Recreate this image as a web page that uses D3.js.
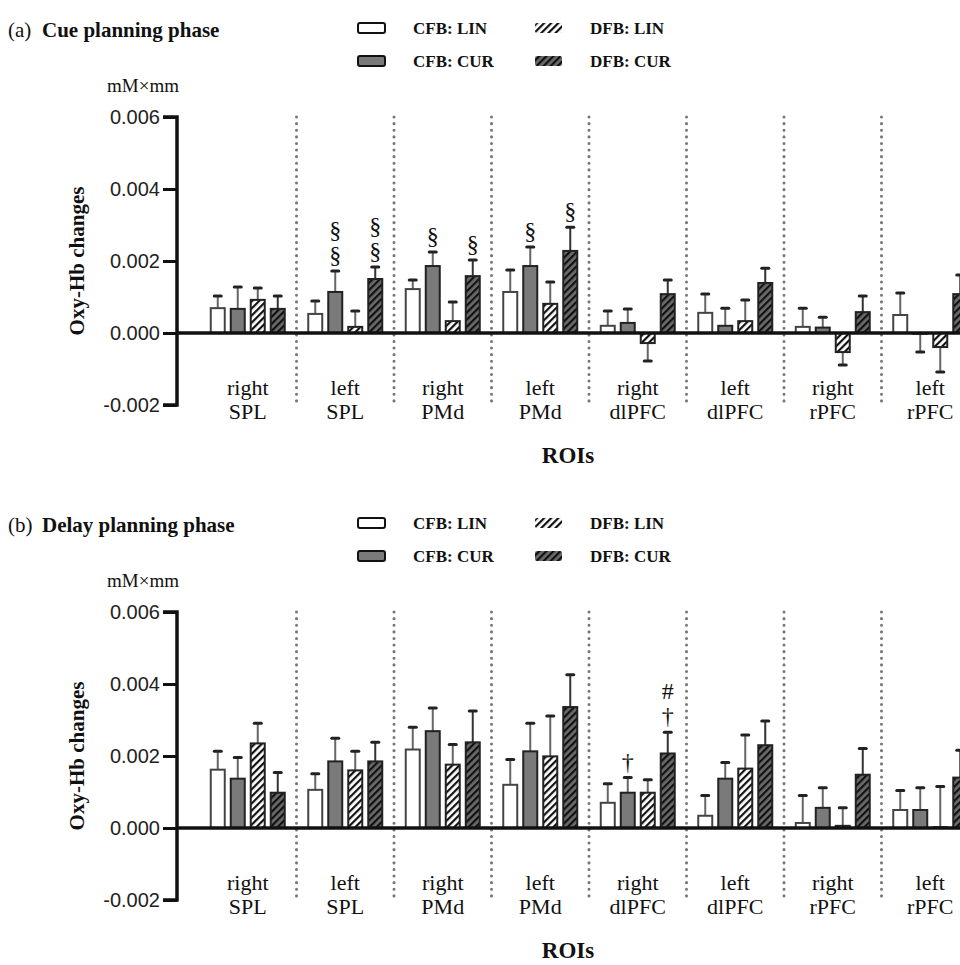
<!DOCTYPE html>
<html>
<head>
<meta charset="utf-8">
<script src="https://cdn.jsdelivr.net/npm/d3@7"></script>
<style>
  body { margin: 0; background: #fff; }
  svg { display: block; }
  .serif { font-family: "Liberation Serif", "Times New Roman", serif; fill: #111; }
  .tick text { font-family: "Liberation Sans", Arial, sans-serif; font-size: 20px; fill: #222; }
</style>
</head>
<body>
<div id="chart"></div>
<script>
// ROI groups (two-line labels)
const sides = ["right", "left", "right", "left", "right", "left", "right", "left"];
const regions = ["SPL", "SPL", "PMd", "PMd", "dlPFC", "dlPFC", "rPFC", "rPFC"];
const seriesNames = ["CFB: LIN", "CFB: CUR", "DFB: LIN", "DFB: CUR"];
const yTicks = [-0.002, 0, 0.002, 0.004, 0.006];

// (a) cue planning phase: means and SEM per series
const cueCfbLin = [0.00069, 0.00053, 0.00122, 0.00114, 0.00020, 0.00056, 0.00017, 0.00050];
const cueCfbCur = [0.00067, 0.00114, 0.00186, 0.00186, 0.00028, 0.00020, 0.00015, -0.00002];
const cueDfbLin = [0.00092, 0.00017, 0.00033, 0.00081, -0.00028, 0.00033, -0.00053, -0.00039];
const cueDfbCur = [0.00067, 0.00150, 0.00158, 0.00228, 0.00108, 0.00139, 0.00058, 0.00108];
const cueCfbLinErr = [0.00034, 0.00036, 0.00025, 0.00061, 0.00041, 0.00052, 0.00052, 0.00061];
const cueCfbCurErr = [0.00061, 0.00058, 0.00039, 0.00053, 0.00039, 0.00049, 0.00029, 0.00051];
const cueDfbLinErr = [0.00033, 0.00044, 0.00053, 0.00061, 0.00050, 0.00059, 0.00036, 0.00069];
const cueDfbCurErr = [0.00036, 0.00033, 0.00045, 0.00066, 0.00039, 0.00041, 0.00045, 0.00053];

// (b) delay planning phase
const delayCfbLin = [0.00162, 0.00106, 0.00218, 0.00120, 0.00070, 0.00034, 0.00014, 0.00050];
const delayCfbCur = [0.00137, 0.00185, 0.00269, 0.00213, 0.00098, 0.00137, 0.00056, 0.00050];
const delayDfbLin = [0.00235, 0.00160, 0.00176, 0.00199, 0.00098, 0.00165, 0.00006, 0.00002];
const delayDfbCur = [0.00098, 0.00185, 0.00238, 0.00336, 0.00207, 0.00230, 0.00148, 0.00140];
const delayCfbLinErr = [0.00051, 0.00045, 0.00062, 0.00070, 0.00053, 0.00056, 0.00076, 0.00054];
const delayCfbCurErr = [0.00059, 0.00064, 0.00064, 0.00078, 0.00042, 0.00045, 0.00056, 0.00062];
const delayDfbLinErr = [0.00056, 0.00053, 0.00056, 0.00112, 0.00036, 0.00093, 0.00050, 0.00113];
const delayDfbCurErr = [0.00056, 0.00053, 0.00087, 0.00090, 0.00059, 0.00067, 0.00073, 0.00076];

// significance marks: group index, series index, symbols bottom-up
const cueMarks = [
  [1, 1, ["§", "§"]], [1, 3, ["§", "§"]],
  [2, 1, ["§"]], [2, 3, ["§"]],
  [3, 1, ["§"]], [3, 3, ["§"]]
];
const delayMarks = [
  [4, 1, ["†"]], [4, 3, ["†", "#"]]
];

const W = 960, H = 965;
const svg = d3.select("#chart").append("svg").attr("width", W).attr("height", H);

// patterns for hatched series
const defs = svg.append("defs");
function hatch(id, bg) {
  const p = defs.append("pattern").attr("id", id)
    .attr("patternUnits", "userSpaceOnUse")
    .attr("width", 5).attr("height", 5)
    .attr("patternTransform", "rotate(45)");
  p.append("rect").attr("width", 5).attr("height", 5).attr("fill", bg);
  p.append("rect").attr("width", 2.2).attr("height", 5).attr("fill", "#111");
}
hatch("hatchLight", "#fff");
hatch("hatchDark", "#6a6a6a");

const fills = ["#fff", "#7a7a7a", "url(#hatchLight)", "url(#hatchDark)"];
const outline = ["#444", "#222", "#222", "#222"];

function drawPanel(opts) {
  const top = opts.top;
  const g = svg.append("g").attr("transform", `translate(0,${top})`);

  const y = d3.scaleLinear().domain([-0.002, 0.006]).range([405, 117]);
  const x0 = d3.scaleBand().domain(d3.range(sides.length)).range([199, 199 + 97.5 * 8]).padding(0);
  const x1 = d3.scaleBand().domain(d3.range(4)).range([11.75, 85.75]).paddingInner(0.3).paddingOuter(0);

  // title
  const title = g.append("text").attr("class", "serif").attr("x", 8).attr("y", 37).style("font-size", "21px");
  title.append("tspan").text(opts.letter);
  title.append("tspan").attr("x", 42).style("font-weight", "bold").text(opts.title);

  // legend
  const lg = g.append("g");
  seriesNames.forEach((name, i) => {
    const col = i < 2 ? 0 : 1;
    const row = i % 2;
    const lx = col === 0 ? 358 : 535;
    const ly = row === 0 ? 28 : 61;
    lg.append("rect").attr("x", lx).attr("y", ly - 5).attr("width", 27).attr("height", 10)
      .attr("rx", 2)
      .attr("fill", fills[i])
      .attr("stroke", i < 2 ? "#111" : "none").attr("stroke-width", 2);
    lg.append("text").attr("class", "serif").attr("x", lx + 55).attr("y", ly + 6)
      .style("font-size", "17px").style("font-weight", "bold").text(name);
  });

  // unit
  g.append("text").attr("class", "serif").attr("x", 107).attr("y", 92)
    .style("font-size", "19px").text("mM×mm");

  // y label
  g.append("text").attr("class", "serif")
    .attr("transform", `translate(84,${(y(0.006) + y(-0.002)) / 2}) rotate(-90)`)
    .attr("text-anchor", "middle")
    .style("font-size", "21px").style("font-weight", "bold")
    .text("Oxy-Hb changes");

  // dotted separators
  g.selectAll(".sep").data(d3.range(1, sides.length)).join("line")
    .attr("x1", d => x0(d)).attr("x2", d => x0(d))
    .attr("y1", y(0.006)).attr("y2", y(-0.002))
    .attr("stroke", "#777").attr("stroke-width", 3)
    .attr("stroke-linecap", "round").attr("stroke-dasharray", "0.1,6.5");

  // bars
  const rows = [];
  opts.means.forEach((arr, s) => arr.forEach((v, gi) => rows.push({ g: gi, s: s, v: v, e: opts.errs[s][gi] })));

  const bars = g.append("g");
  // error bars first
  rows.forEach(d => {
    const cx = x0(d.g) + x1(d.s) + x1.bandwidth() / 2;
    const dir = d.v >= 0 ? 1 : -1;
    const tip = d.v + dir * d.e;
    bars.append("line").attr("x1", cx).attr("x2", cx)
      .attr("y1", y(d.v)).attr("y2", y(tip))
      .attr("stroke", d.s === 3 ? "#333" : "#666").attr("stroke-width", 2);
    bars.append("line").attr("x1", cx - 3.5).attr("x2", cx + 3.5)
      .attr("y1", y(tip)).attr("y2", y(tip))
      .attr("stroke", "#222").attr("stroke-width", 3).attr("stroke-linecap", "round");
  });
  rows.forEach(d => {
    const bx = x0(d.g) + x1(d.s);
    const y0 = Math.min(y(0), y(d.v)), h = Math.abs(y(0) - y(d.v));
    bars.append("rect").attr("x", bx).attr("y", y0)
      .attr("width", x1.bandwidth()).attr("height", h)
      .attr("fill", fills[d.s]).attr("stroke", outline[d.s]).attr("stroke-width", 2);
  });

  // marks
  opts.marks.forEach(m => {
    const d = rows.find(r => r.g === m[0] && r.s === m[1]);
    const cx = x0(d.g) + x1(d.s) + x1.bandwidth() / 2;
    const tipY = y(d.v + d.e);
    m[2].forEach((sym, k) => {
      g.append("text").attr("class", "serif")
        .attr("x", cx).attr("y", tipY - 8 - k * 25)
        .attr("text-anchor", "middle").style("font-size", "24px")
        .text(sym);
    });
  });

  // y axis
  const yAxis = d3.axisLeft(y).tickValues(yTicks).tickSize(14).tickPadding(3)
    .tickFormat(d3.format(".3f"));
  const ya = g.append("g").attr("class", "y axis").attr("transform", "translate(177,0)").call(yAxis);
  ya.select(".domain").attr("stroke", "#111").attr("stroke-width", 3.5).attr("d", `M-14,${y(0.006)}H0V${y(-0.002)}H-14`);
  ya.selectAll(".tick line").attr("stroke", "#111").attr("stroke-width", 3);
  ya.selectAll(".tick text").text(d => d === -0.002 ? "-0.002" : d3.format(".3f")(d));

  // zero line
  g.append("line").attr("x1", 177).attr("x2", W).attr("y1", y(0)).attr("y2", y(0))
    .attr("stroke", "#111").attr("stroke-width", 3.5);

  // category labels
  const cat = g.append("g");
  sides.forEach((s, i) => {
    const cx = x0(i) + x0.bandwidth() / 2;
    cat.append("text").attr("class", "serif").attr("x", cx).attr("y", 395)
      .attr("text-anchor", "middle").style("font-size", "22px").text(s);
    cat.append("text").attr("class", "serif").attr("x", cx).attr("y", 419)
      .attr("text-anchor", "middle").style("font-size", "22px").text(regions[i]);
  });
  g.append("text").attr("class", "serif").attr("x", 568).attr("y", 463)
    .attr("text-anchor", "middle").style("font-size", "23px").style("font-weight", "bold")
    .text("ROIs");
}

drawPanel({
  top: 0, letter: "(a)", title: "Cue planning phase",
  means: [cueCfbLin, cueCfbCur, cueDfbLin, cueDfbCur],
  errs: [cueCfbLinErr, cueCfbCurErr, cueDfbLinErr, cueDfbCurErr],
  marks: cueMarks
});
drawPanel({
  top: 495, letter: "(b)", title: "Delay planning phase",
  means: [delayCfbLin, delayCfbCur, delayDfbLin, delayDfbCur],
  errs: [delayCfbLinErr, delayCfbCurErr, delayDfbLinErr, delayDfbCurErr],
  marks: delayMarks
});
</script>
</body>
</html>
